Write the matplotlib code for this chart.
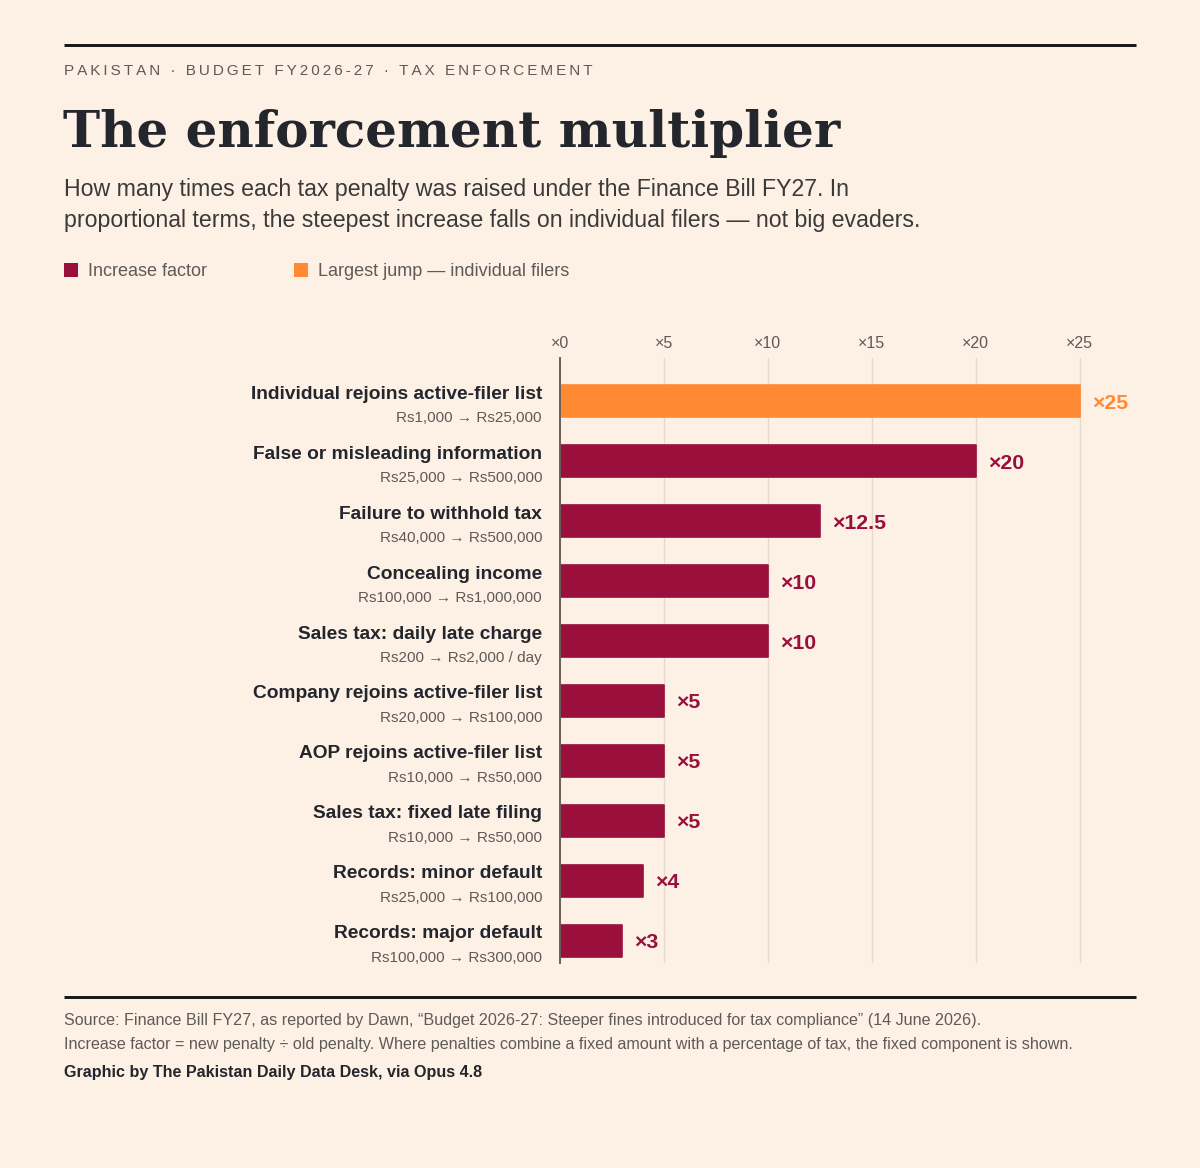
import matplotlib
matplotlib.use("Agg")
import matplotlib.pyplot as plt
from matplotlib.lines import Line2D
from matplotlib.patches import Rectangle

# ---------------- data ----------------
categories = [
    "Individual rejoins active-filer list",
    "False or misleading information",
    "Failure to withhold tax",
    "Concealing income",
    "Sales tax: daily late charge",
    "Company rejoins active-filer list",
    "AOP rejoins active-filer list",
    "Sales tax: fixed late filing",
    "Records: minor default",
    "Records: major default",
]
old_new = [
    "Rs1,000 \u2192 Rs25,000",
    "Rs25,000 \u2192 Rs500,000",
    "Rs40,000 \u2192 Rs500,000",
    "Rs100,000 \u2192 Rs1,000,000",
    "Rs200 \u2192 Rs2,000 / day",
    "Rs20,000 \u2192 Rs100,000",
    "Rs10,000 \u2192 Rs50,000",
    "Rs10,000 \u2192 Rs50,000",
    "Rs25,000 \u2192 Rs100,000",
    "Rs100,000 \u2192 Rs300,000",
]
factors = [25, 20, 12.5, 10, 10, 5, 5, 5, 4, 3]
highlight = [True, False, False, False, False, False, False, False, False, False]
x_ticks = [0, 5, 10, 15, 20, 25]

# ---------------- style ----------------
BG = "#fdf0e5"
MAROON = "#9a0f3b"
ORANGE = "#ff8a33"
DARK = "#23262d"
GRAY = "#5e5a57"
GRID = "#e6dacd"
ZERO = "#6b5f57"

W, H = 1200, 1168
plt.rcParams["font.family"] = ["Liberation Sans", "DejaVu Sans"]
fig = plt.figure(figsize=(W / 100, H / 100), dpi=100, facecolor=BG)


def fx(x):
    return x / W


def fy(y):
    return 1 - y / H


def ftext(x, y, s, **kw):
    kw.setdefault("va", "center")
    kw.setdefault("ha", "left")
    return fig.text(fx(x), fy(y), s, **kw)


def hrule(y, lw_px=3):
    fig.add_artist(Line2D([fx(64), fx(1136)], [fy(y), fy(y)],
                          transform=fig.transFigure, color="#1b1b1b",
                          linewidth=lw_px * 0.72, solid_capstyle="butt"))


# header
hrule(45)
kicker = "PAKISTAN · BUDGET FY2026-27 · TAX ENFORCEMENT"
ftext(64, 71, "\u2009".join(kicker), fontsize=11, color=GRAY)
ftext(63, 133, "The enforcement multiplier", fontsize=36,
      fontweight="bold", family="DejaVu Serif", color=DARK)
ftext(64, 189, "How many times each tax penalty was raised under the Finance Bill FY27. In",
      fontsize=16.7, color="#3a3a3a")
ftext(64, 221, "proportional terms, the steepest increase falls on individual filers \u2014 not big evaders.",
      fontsize=16.7, color="#3a3a3a")

# legend
for sx, col, lab in [(64, MAROON, "Increase factor"),
                     (294, ORANGE, "Largest jump \u2014 individual filers")]:
    fig.add_artist(Rectangle((fx(sx), fy(277)), 14 / W, 14 / H,
                             transform=fig.transFigure, facecolor=col,
                             edgecolor="none"))
    ftext(sx + 24, 271, lab, fontsize=13, color=GRAY)

# ---------------- chart ----------------
ax = fig.add_axes([fx(560), fy(963), fx(1136) - fx(560), (963 - 358) / H])
ax.set_facecolor(BG)
n = len(categories)
ypos = list(range(n))
colors = [ORANGE if h else MAROON for h in highlight]
ax.barh(ypos, factors, height=0.54, color=colors, edgecolor=colors,
        linewidth=1.2, joinstyle="round", zorder=3)
ax.set_xlim(0, 27.7)
ax.set_ylim(n - 1 + 0.37, -0.72)

ax.xaxis.tick_top()
ax.set_xticks(x_ticks)
ax.set_xticklabels([f"\u00d7{t}" for t in x_ticks], fontsize=11.5, color=GRAY)
ax.tick_params(axis="x", length=0, pad=5)
ax.set_yticks([])
ax.grid(axis="x", color=GRID, linewidth=1.0, zorder=0)
for s in ["top", "right", "bottom"]:
    ax.spines[s].set_visible(False)
ax.spines["left"].set_color(ZERO)
ax.spines["left"].set_linewidth(1.4)
ax.spines["left"].set_zorder(4)

for i, (cat, sub, f, col) in enumerate(zip(categories, old_new, factors, colors)):
    ax.annotate(cat, xy=(0, i), xytext=(-18, 7), textcoords="offset pixels",
                ha="right", va="center", fontsize=13.8, fontweight="bold",
                color=DARK, annotation_clip=False)
    ax.annotate(sub, xy=(0, i), xytext=(-18, -17), textcoords="offset pixels",
                ha="right", va="center", fontsize=11, color=GRAY,
                annotation_clip=False)
    ax.annotate(f"\u00d7{f:g}", xy=(f, i), xytext=(12, -2), textcoords="offset pixels",
                ha="left", va="center", fontsize=15.3, fontweight="bold",
                color=col, annotation_clip=False)

# footer
hrule(997)
ftext(64, 1021, "Source: Finance Bill FY27, as reported by Dawn, \u201cBudget 2026-27: Steeper fines introduced for tax compliance\u201d (14 June 2026).",
      fontsize=11.6, color=GRAY)
ftext(64, 1045, "Increase factor = new penalty \u00f7 old penalty. Where penalties combine a fixed amount with a percentage of tax, the fixed component is shown.",
      fontsize=11.6, color=GRAY)
ftext(64, 1073, "Graphic by The Pakistan Daily Data Desk, via Opus 4.8",
      fontsize=11.6, fontweight="bold", color=DARK)

fig.savefig("out.png", dpi=100, facecolor=BG)
